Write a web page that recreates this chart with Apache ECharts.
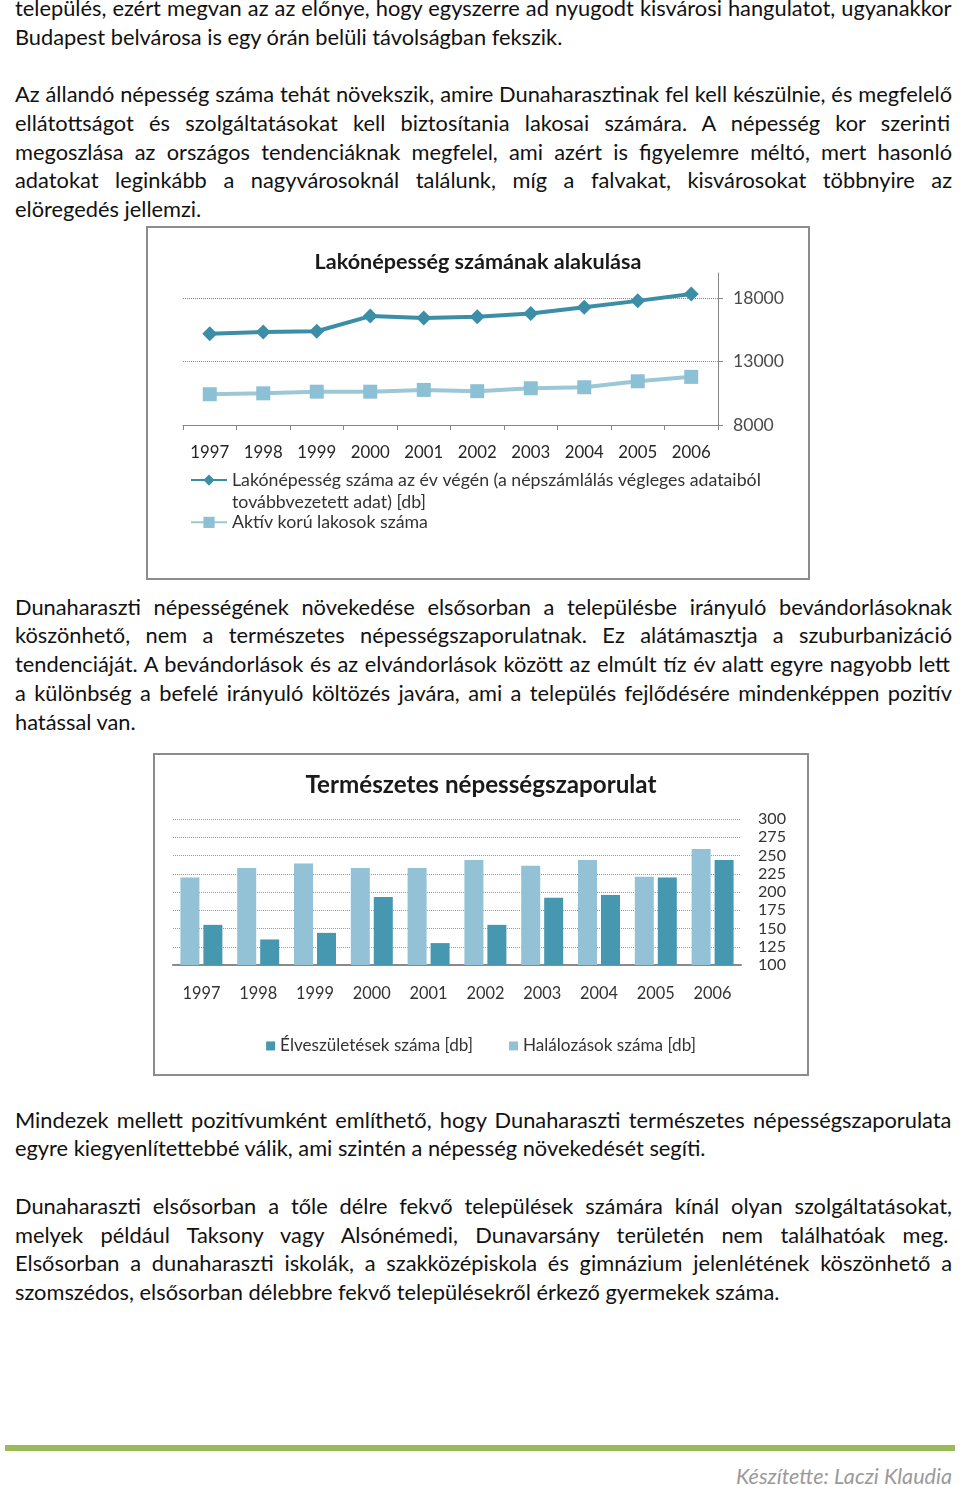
<!DOCTYPE html>
<html><head><meta charset="utf-8">
<script src="https://cdn.jsdelivr.net/npm/echarts@6/dist/echarts.min.js"></script>
<style>
html,body{margin:0;padding:0;background:#fff;}
body{width:960px;height:1485px;position:relative;overflow:hidden;}
.ln{position:absolute;left:15px;white-space:nowrap;color:#111;}
.box{position:absolute;border:2px solid #8c8c8c;box-sizing:border-box;background:#fff;}
.chart{position:absolute;left:0;top:0;}
#bar{position:absolute;left:5px;top:1445px;width:950px;height:6px;background:#9BBB59;}
#foot{position:absolute;right:8px;white-space:nowrap;color:#9a9a9a;font-style:italic;}
</style></head><body>
<div class="box" style="left:146px;top:226px;width:664px;height:354px;"><div id="c1" class="chart" style="width:660px;height:350px;"></div></div>
<div class="box" style="left:153px;top:753px;width:656px;height:323px;"><div id="c2" class="chart" style="width:652px;height:319px;"></div></div>
<div id="bar"></div>
<div id="foot">Készítette: Laczi Klaudia</div>
<script>
// ---- data ----
const years = ['1997','1998','1999','2000','2001','2002','2003','2004','2005','2006'];
const population = [15200, 15350, 15400, 16600, 16450, 16550, 16800, 17300, 17800, 18350];
const activeAge = [10430, 10500, 10630, 10630, 10770, 10670, 10900, 10980, 11450, 11800];
const births = [155, 135, 144, 193, 130, 155, 192, 196, 220, 244];
const deaths = [220, 233, 239, 233, 233, 244, 236, 244, 221, 259];
const popName = 'Lakónépesség száma az év végén (a népszámlálás végleges adataiból továbbvezetett adat) [db]';
const popLegend1 = 'Lakónépesség száma az év végén (a népszámlálás végleges adataiból';
const popLegend2 = 'továbbvezetett adat) [db]';
const activeName = 'Aktív korú lakosok száma';
const birthName = 'Élveszületések száma [db]';
const deathName = 'Halálozások száma [db]';
const title1 = 'Lakónépesség számának alakulása';
const title2 = 'Természetes népességszaporulat';

// body text lines: [text, centerY, justified]
const lines = [
 ['település, ezért megvan az az előnye, hogy egyszerre ad nyugodt kisvárosi hangulatot, ugyanakkor', 8.25, true],
 ['Budapest belvárosa is egy órán belüli távolságban fekszik.', 37, false],
 ['Az állandó népesség száma tehát növekszik, amire Dunaharasztinak fel kell készülnie, és megfelelő', 94.5, true],
 ['ellátottságot és szolgáltatásokat kell biztosítania lakosai számára. A népesség kor szerinti', 123.25, true],
 ['megoszlása az országos tendenciáknak megfelel, ami azért is figyelemre méltó, mert hasonló', 152, true],
 ['adatokat leginkább a nagyvárosoknál találunk, míg a falvakat, kisvárosokat többnyire az', 180.75, true],
 ['elöregedés jellemzi.', 209.5, false],
 ['Dunaharaszti népességének növekedése elsősorban a településbe irányuló bevándorlásoknak', 607, true],
 ['köszönhető, nem a természetes népességszaporulatnak. Ez alátámasztja a szuburbanizáció', 635.75, true],
 ['tendenciáját. A bevándorlások és az elvándorlások között az elmúlt tíz év alatt egyre nagyobb lett', 664.5, true],
 ['a különbség a befelé irányuló költözés javára, ami a település fejlődésére mindenképpen pozitív', 693.25, true],
 ['hatással van.', 722, false],
 ['Mindezek mellett pozitívumként említhető, hogy Dunaharaszti természetes népességszaporulata', 1120, true],
 ['egyre kiegyenlítettebbé válik, ami szintén a népesség növekedését segíti.', 1148.75, false],
 ['Dunaharaszti elsősorban a tőle délre fekvő települések számára kínál olyan szolgáltatásokat,', 1206.25, true],
 ['melyek például Taksony vagy Alsónémedi, Dunavarsány területén nem találhatóak meg.', 1235, true],
 ['Elsősorban a dunaharaszti iskolák, a szakközépiskola és gimnázium jelenlétének köszönhető a', 1263.75, true],
 ['szomszédos, elsősorban délebbre fekvő településekről érkező gyermekek száma.', 1292.5, false]
];

const FONT = 'Lato,"Open Sans",sans-serif';
const cv = document.createElement('canvas').getContext('2d');
function mw(text, size, weight, style){ cv.font = (style||'normal')+' '+(weight||'normal')+' '+size+'px '+FONT; return cv.measureText(text).width; }
function fit(text, target, weight, style){ return 40*target/mw(text,40,weight,style); }

const bodySize = fit(lines[17][0], 765);
const LH = 28.75;
lines.forEach(([t, cy, just]) => {
  const d = document.createElement('div');
  d.className = 'ln';
  d.textContent = t;
  d.style.fontFamily = FONT;
  d.style.fontSize = bodySize + 'px';
  d.style.lineHeight = LH + 'px';
  d.style.top = (cy - LH/2) + 'px';
  if (just) {
    const nat = mw(t, bodySize);
    const spaces = (t.match(/ /g) || []).length;
    d.style.wordSpacing = ((937 - nat) / spaces) + 'px';
  }
  document.body.appendChild(d);
});
const foot = document.getElementById('foot');
const footSize = fit('Készítette: Laczi Klaudia', 216, 'normal', 'italic');
foot.style.fontFamily = FONT;
foot.style.fontSize = footSize + 'px';
foot.style.lineHeight = '30px';
foot.style.top = (1476 - 15) + 'px';

// ---- chart 1 ----
const t1 = fit(title1, 327, 'bold');
const ax1 = fit('1997', 39);
const yl1 = fit('18000', 51);
const lg1 = fit(activeName, 196);
const c1 = echarts.init(document.getElementById('c1'));
c1.setOption({
  animation: false,
  textStyle: {fontFamily: FONT},
  title: {text: title1, left: 'center', top: 34 - t1/2, padding: 0,
    textStyle: {fontFamily: FONT, fontSize: t1, fontWeight: 'bold', color: '#1a1a1a'}},
  grid: {left: 35, right: 90, top: 45, height: 152},
  xAxis: {type: 'category', data: years, boundaryGap: true,
    axisLine: {lineStyle: {color: '#868686', width: 1}},
    axisTick: {show: true, length: 5, lineStyle: {color: '#868686'}},
    axisLabel: {margin: 19, fontSize: ax1, color: '#262626', fontFamily: FONT}},
  yAxis: {type: 'value', position: 'right', min: 8000, max: 20000, interval: 5000,
    axisLine: {show: true, lineStyle: {color: '#868686'}},
    axisTick: {show: true, length: 5, lineStyle: {color: '#868686'}},
    axisLabel: {showMaxLabel: false, margin: 15, fontSize: yl1, color: '#4a4a4a', fontFamily: FONT,
      formatter: v => String(v)},
    splitLine: {show: true, showMinLine: false, showMaxLine: false, lineStyle: {type: 'dotted', color: '#8a8a8a'}}},
  legend: {orient: 'vertical', left: 42, top: 253 - lg1/2 - 1, padding: 0, itemWidth: 36, itemHeight: 14, itemGap: 42 - lg1,
    data: [popName, activeName],
    formatter: n => n === popName ? popLegend1 : n,
    textStyle: {fontSize: lg1, color: '#333', fontFamily: FONT}},
  graphic: [{type: 'text', left: 84, top: 275 - lg1/2 - 1,
    style: {text: popLegend2, fontSize: lg1, fill: '#333', fontFamily: FONT}}],
  series: [
    {type: 'line', name: popName, data: population, symbol: 'diamond', symbolSize: 15,
     lineStyle: {width: 4, color: '#3C8EA6'}, itemStyle: {color: '#3C8EA6'}},
    {type: 'line', name: activeName, data: activeAge, symbol: 'rect', symbolSize: 14,
     lineStyle: {width: 4, color: '#9CC7D7'}, itemStyle: {color: '#8CC1D5'}}
  ]
});

// ---- chart 2 ----
const t2 = fit(title2, 351, 'bold');
const ax2 = fit('1997', 38);
const yl2 = fit('300', 28);
const lg2 = fit(birthName, 193);
const c2 = echarts.init(document.getElementById('c2'));
c2.setOption({
  animation: false,
  textStyle: {fontFamily: FONT},
  title: {text: title2, left: 'center', top: 30 - t2/2, padding: 0,
    textStyle: {fontFamily: FONT, fontSize: t2, fontWeight: 'bold', color: '#1a1a1a'}},
  grid: {left: 18, right: 66, top: 64, height: 146},
  xAxis: {type: 'category', data: years,
    axisLine: {lineStyle: {color: '#8a8a8a', width: 2}},
    axisTick: {show: false},
    axisLabel: {margin: 21, fontSize: ax2, color: '#333', fontFamily: FONT}},
  yAxis: {type: 'value', position: 'right', min: 100, max: 300, interval: 25,
    axisLine: {show: false}, axisTick: {show: false},
    axisLabel: {margin: 17, fontSize: yl2, color: '#333', fontFamily: FONT},
    splitLine: {show: true, lineStyle: {type: 'dotted', color: '#9a9a9a'}}},
  legend: {left: 'center', top: 291 - lg2/2, padding: 0, itemWidth: 9, itemHeight: 9, itemGap: 36, icon: 'rect',
    data: [birthName, deathName],
    textStyle: {fontSize: lg2, color: '#333', fontFamily: FONT}},
  series: [
    {type: 'bar', name: deathName, data: deaths, barWidth: 19, barGap: '21%', itemStyle: {color: '#93C2D6'}},
    {type: 'bar', name: birthName, data: births, barWidth: 19, barGap: '21%', itemStyle: {color: '#4598B0'}}
  ]
});
</script>
</body></html>
